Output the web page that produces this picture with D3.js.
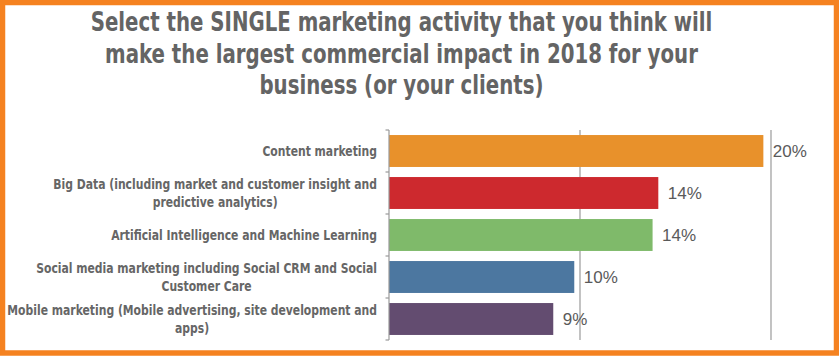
<!DOCTYPE html>
<html><head><meta charset="utf-8">
<script src="https://cdn.jsdelivr.net/npm/d3@7"></script>
<style>html,body{margin:0;padding:0;background:#fff;}svg{display:block;}</style>
</head><body>
<svg id="chart" width="839" height="356"></svg>
<script>
const titleLines = ["Select the SINGLE marketing activity that you think will", "make the largest commercial impact in 2018 for your", "business (or your clients)"];
const categories = [
  ["Content marketing"],
  ["Big Data (including market and customer insight and", "predictive analytics)"],
  ["Artificial Intelligence and Machine Learning"],
  ["Social media marketing including Social CRM and Social", "Customer Care"],
  ["Mobile marketing (Mobile advertising, site development and", "apps)"]
];
const values = [19.6, 14.1, 13.8, 9.7, 8.6];
const valueLabels = ["20%", "14%", "14%", "10%", "9%"];
const colors = ["#E8912B", "#CD292E", "#7FBA6A", "#4C77A0", "#634C70"];
const gridTicks = [10, 20];

const svg = d3.select("#chart");
const W = 839, H = 356;
const condensed = "'Liberation Sans Narrow','Arial Narrow','DejaVu Sans Condensed',sans-serif";

// horizontal squeeze to mimic a narrow typeface
function squeeze(sel, factor) {
  sel.each(function() {
    const len = this.getComputedTextLength();
    d3.select(this).attr("textLength", len * factor).attr("lengthAdjust", "spacingAndGlyphs");
  });
}

// title
const title = svg.append("g").selectAll("text").data(titleLines).join("text")
  .attr("x", 401.5).attr("y", (d, i) => 31 + i * 31.5)
  .attr("text-anchor", "middle")
  .attr("font-family", condensed).attr("font-weight", "bold")
  .attr("font-size", 26).attr("fill", "#646464")
  .text(d => d);
squeeze(title, 0.845);

const x = d3.scaleLinear().domain([0, 20]).range([389, 771]);
const y = d3.scaleBand().domain(d3.range(categories.length)).range([130, 340]).paddingInner(0.24).paddingOuter(0.12);

// gridlines
svg.append("g").selectAll("line").data(gridTicks).join("line")
  .attr("x1", d => x(d)).attr("x2", d => x(d))
  .attr("y1", 130).attr("y2", 340)
  .attr("stroke", "#9a9a9a").attr("stroke-width", 1.2);

// bars
svg.append("g").selectAll("rect").data(values).join("rect")
  .attr("x", x(0)).attr("y", (d, i) => y(i))
  .attr("width", d => x(d) - x(0)).attr("height", y.bandwidth())
  .attr("fill", (d, i) => colors[i]);

// axis line and boundary ticks
const step = y.step();
const bounds = d3.range(categories.length + 1).map(i => 130 + i * step);
const ax = svg.append("g");
ax.append("line").attr("x1", x(0)).attr("x2", x(0)).attr("y1", 130).attr("y2", 340)
  .attr("stroke", "#9a9a9a").attr("stroke-width", 1.2);
ax.selectAll("line.tk").data(bounds).join("line").attr("class", "tk")
  .attr("x1", x(0) - 3.5).attr("x2", x(0)).attr("y1", d => d).attr("y2", d => d)
  .attr("stroke", "#9a9a9a").attr("stroke-width", 1.2);

// value labels
svg.append("g").selectAll("text").data(values).join("text")
  .attr("x", d => x(d) + 9.5).attr("y", (d, i) => y(i) + y.bandwidth() / 2)
  .attr("dy", "0.36em")
  .attr("font-family", "'Liberation Sans',Arial,sans-serif")
  .attr("font-size", 17).attr("fill", "#5a5a5a")
  .text((d, i) => valueLabels[i]);

// category labels: block right-aligned, lines centred within block
const labelRight = 377, fs = 13.5, lh = 18, sq = 0.89;
const labG = svg.append("g")
  .attr("font-family", condensed).attr("font-weight", "bold")
  .attr("font-size", fs).attr("fill", "#666");
categories.forEach((lines, i) => {
  const cy = y(i) + y.bandwidth() / 2;
  const n = lines.length;
  const texts = lines.map((line, j) => labG.append("text")
    .attr("y", cy - (n - 1) * lh / 2 + j * lh + fs * 0.37)
    .attr("text-anchor", "middle")
    .text(line));
  texts.forEach(t => squeeze(t, sq));
  const widths = texts.map(t => +t.attr("textLength"));
  const blockW = d3.max(widths);
  const cx = labelRight - blockW / 2;
  texts.forEach(t => t.attr("x", cx));
});

// orange frame
svg.append("rect").attr("x", 2.5).attr("y", 2.5).attr("width", W - 5).attr("height", H - 5.5)
  .attr("fill", "none").attr("stroke", "#F58220").attr("stroke-width", 5.5);
</script>
</body></html>
